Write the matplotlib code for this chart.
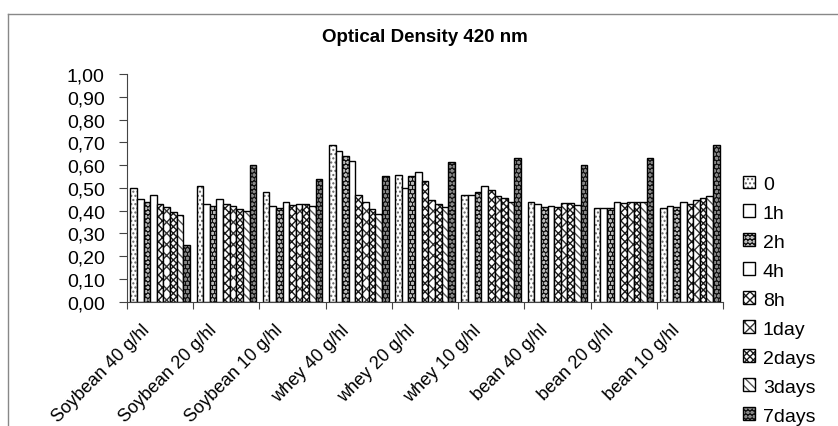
import matplotlib

matplotlib.use("Agg")
import matplotlib.pyplot as plt
import numpy as np
from matplotlib.legend_handler import HandlerTuple
from matplotlib.lines import Line2D

plt.rcParams["font.family"] = ["Liberation Sans", "DejaVu Sans"]
plt.rcParams["hatch.linewidth"] = 1.0

groups = ["Soybean 40 g/hl", "Soybean 20 g/hl", "Soybean 10 g/hl",
          "whey 40 g/hl", "whey 20 g/hl", "whey 10 g/hl",
          "bean 40 g/hl", "bean 20 g/hl", "bean 10 g/hl"]
series_names = ["0", "1h", "2h", "4h", "8h", "1day", "2days", "3days", "7days"]

od_0 = [0.50, 0.51, 0.48, 0.69, 0.555, 0.47, 0.44, 0.41, 0.41]
od_1h = [0.45, 0.43, 0.42, 0.66, 0.50, 0.47, 0.43, 0.41, 0.42]
od_2h = [0.44, 0.42, 0.41, 0.64, 0.55, 0.48, 0.415, 0.41, 0.415]
od_4h = [0.47, 0.45, 0.44, 0.62, 0.57, 0.51, 0.42, 0.44, 0.44]
od_8h = [0.43, 0.43, 0.425, 0.47, 0.53, 0.49, 0.415, 0.435, 0.43]
od_1day = [0.415, 0.42, 0.43, 0.44, 0.445, 0.465, 0.435, 0.44, 0.445]
od_2days = [0.395, 0.405, 0.43, 0.405, 0.43, 0.455, 0.435, 0.44, 0.455]
od_3days = [0.38, 0.40, 0.42, 0.385, 0.415, 0.44, 0.425, 0.44, 0.465]
od_7days = [0.25, 0.60, 0.54, 0.55, 0.615, 0.63, 0.60, 0.63, 0.69]

yticks = [0.0, 0.1, 0.2, 0.3, 0.4, 0.5, 0.6, 0.7, 0.8, 0.9, 1.0]
ytick_labels = ["0,00", "0,10", "0,20", "0,30", "0,40", "0,50",
                "0,60", "0,70", "0,80", "0,90", "1,00"]

all_series = [od_0, od_1h, od_2h, od_4h, od_8h, od_1day, od_2days, od_3days, od_7days]
# (face colour, hatch colour, hatch) per series
styles = [
    ("white", "#666666", "...."),
    ("white", "white", ""),
    ("#111111", "#bbbbbb", "oooo"),
    ("white", "white", ""),
    ("white", "#1a1a1a", "xxxx"),
    ("white", "#333333", "xxx"),
    ("white", "#1a1a1a", "xxxxx"),
    ("white", "#555555", "\\\\\\\\"),
    ("#111111", "#888888", "oooo"),
]

fig = plt.figure(figsize=(8.38, 4.27), dpi=100)
ax = fig.add_axes([127 / 838, 1 - 302.7 / 427, 596 / 838, 227.7 / 427])

width = 0.1
base = np.arange(len(groups))
handles = []
for j, (vals, (face, hcol, hatch)) in enumerate(zip(all_series, styles)):
    x = base + 0.05 + width * j + width / 2
    b1 = ax.bar(x, vals, width, color=face, edgecolor=hcol, hatch=hatch, linewidth=0)
    b2 = ax.bar(x, vals, width, fill=False, edgecolor="black", linewidth=1.0)
    handles.append((b1[0], b2[0]))

ax.set_xlim(0, len(groups))
ax.set_ylim(0, 1.0)
ax.set_yticks(yticks)
ax.set_yticklabels(ytick_labels, fontsize=14)
ax.set_xticks(np.arange(len(groups) + 1))
ax.set_xticklabels([])
ax.tick_params(axis="x", which="major", length=5, direction="out", color="#444444")
ax.tick_params(axis="y", length=6, direction="out", color="#444444", pad=10)
for s in ("top", "right"):
    ax.spines[s].set_visible(False)
for s in ("left", "bottom"):
    ax.spines[s].set_color("#444444")

# category labels, rotated like the spreadsheet original
for i, name in enumerate(groups):
    ax.text(i + 0.5 - 0.28, -0.085, name, transform=ax.get_xaxis_transform(),
            rotation=45, ha="right", va="top", rotation_mode="anchor", fontsize=13)

fig.text(425 / 838, 1 - 38 / 427, "Optical Density 420 nm", ha="center", va="center",
         fontsize=13.5, fontweight="bold")

fig.legend(handles, series_names, loc="upper left", bbox_to_anchor=(725 / 838, 1 - 159 / 427),
           frameon=False, fontsize=14, handlelength=0.65, handleheight=0.65,
           handletextpad=0.4, labelspacing=0.6,
           handler_map={tuple: HandlerTuple(ndivide=1, pad=0)})

fig.add_artist(Line2D([8 / 838, 1], [1 - 15 / 427, 1 - 15 / 427], color="#888888", lw=1))
fig.add_artist(Line2D([8 / 838, 8 / 838], [0, 1 - 15 / 427], color="#888888", lw=1))

fig.savefig("out.png", dpi=100)
